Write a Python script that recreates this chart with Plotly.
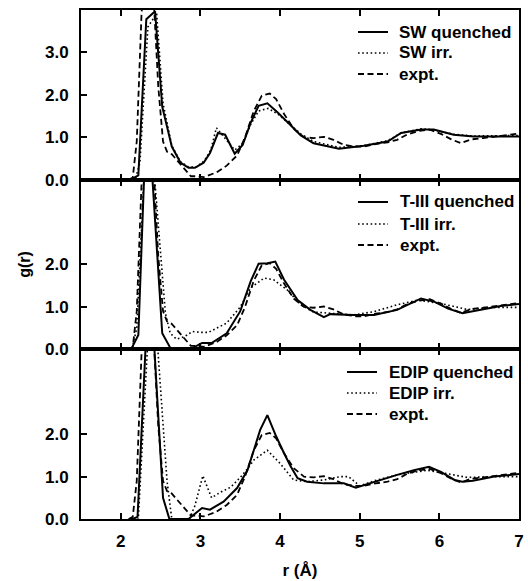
import plotly.graph_objects as go
from plotly.subplots import make_subplots

# ---------------- data ----------------
# experimental g(r) (same in all three panels)
r_expt = [2.10, 2.15, 2.20, 2.26, 2.30, 2.35, 2.40, 2.42, 2.47, 2.53, 2.58, 2.64, 2.70, 2.81, 2.88,
          2.95, 3.04, 3.10, 3.20, 3.33, 3.46, 3.56, 3.67, 3.77, 3.87, 3.95, 4.05, 4.17, 4.30, 4.42,
          4.55, 4.67, 4.80, 4.95, 5.05, 5.20, 5.35, 5.47, 5.60, 5.75, 5.88, 6.02, 6.15, 6.27, 6.40,
          6.55, 6.73, 6.87, 7.00]
g_expt = [0.00, 0.05, 0.90, 3.90, 5.00, 5.60, 5.00, 4.00, 2.20, 0.90, 0.66, 0.60, 0.47, 0.24, 0.08,
          0.08, 0.06, 0.10, 0.17, 0.33, 0.57, 1.00, 1.62, 1.98, 2.03, 1.90, 1.55, 1.20, 1.00, 0.98,
          1.01, 0.94, 0.82, 0.78, 0.78, 0.84, 0.88, 0.94, 1.07, 1.15, 1.18, 1.08, 0.95, 0.86, 0.95,
          0.98, 1.02, 1.05, 1.09]

# SW
r_sw_q = [2.10, 2.14, 2.22, 2.32, 2.43, 2.52, 2.64, 2.75, 2.85, 2.93, 3.04, 3.12, 3.22, 3.31, 3.43,
          3.53, 3.63, 3.73, 3.84, 3.96, 4.13, 4.26, 4.42, 4.74, 5.05, 5.35, 5.52, 5.77, 5.93, 6.18,
          6.43, 6.73, 7.00]
g_sw_q = [0.00, 0.02, 0.10, 3.78, 3.97, 1.72, 0.78, 0.40, 0.28, 0.28, 0.40, 0.63, 1.10, 1.06, 0.61,
          0.82, 1.34, 1.74, 1.80, 1.60, 1.29, 1.04, 0.86, 0.73, 0.80, 0.90, 1.10, 1.18, 1.18, 1.06,
          1.02, 1.02, 1.02]
r_sw_i = [2.10, 2.18, 2.24, 2.34, 2.45, 2.53, 2.64, 2.75, 2.85, 2.95, 3.05, 3.13, 3.20, 3.30, 3.43,
          3.53, 3.63, 3.73, 3.85, 3.97, 4.13, 4.26, 4.42, 4.74, 5.05, 5.35, 5.52, 5.77, 5.93, 6.18,
          6.43, 6.73, 7.00]
g_sw_i = [0.00, 0.00, 0.40, 3.60, 3.92, 1.80, 0.80, 0.42, 0.30, 0.30, 0.45, 0.70, 1.22, 1.00, 0.70,
          0.85, 1.30, 1.62, 1.68, 1.55, 1.30, 1.08, 0.90, 0.76, 0.80, 0.92, 1.10, 1.20, 1.17, 1.07,
          1.03, 1.03, 1.04]

# T-III
r_t3_q = [2.10, 2.14, 2.22, 2.33, 2.52, 2.62, 2.87, 3.02, 3.14, 3.33, 3.50, 3.63, 3.73, 3.84, 3.94,
          4.05, 4.22, 4.38, 4.55, 4.63, 4.92, 5.18, 5.47, 5.77, 5.94, 6.11, 6.29, 6.52, 6.77, 7.00]
g_t3_q = [0.00, 0.04, 0.34, 6.00, 0.38, 0.04, 0.00, 0.15, 0.15, 0.38, 0.90, 1.60, 2.02, 2.03, 2.07,
          1.64, 1.16, 0.93, 0.76, 0.83, 0.81, 0.81, 0.93, 1.20, 1.12, 0.96, 0.85, 0.94, 1.02, 1.07]
r_t3_i = [2.10, 2.14, 2.20, 2.34, 2.56, 2.62, 2.70, 2.80, 2.90, 3.00, 3.10, 3.20, 3.33, 3.50, 3.63,
          3.80, 3.92, 4.09, 4.26, 4.42, 4.67, 4.92, 5.18, 5.47, 5.73, 6.02, 6.35, 6.69, 7.00]
g_t3_i = [0.00, 0.00, 0.50, 6.00, 0.85, 0.38, 0.24, 0.30, 0.42, 0.40, 0.40, 0.50, 0.62, 1.00, 1.45,
          1.68, 1.64, 1.40, 1.05, 0.88, 0.85, 0.81, 0.89, 1.05, 1.16, 1.08, 0.94, 0.99, 0.99]

# EDIP
r_ed_q = [2.10, 2.15, 2.21, 2.36, 2.53, 2.61, 2.85, 3.02, 3.12, 3.29, 3.46, 3.59, 3.67, 3.75, 3.84,
          3.95, 4.05, 4.13, 4.22, 4.34, 4.55, 4.80, 4.95, 5.18, 5.47, 5.68, 5.87, 6.02, 6.19, 6.29,
          6.42, 6.69, 7.00]
g_ed_q = [0.00, 0.00, 0.05, 6.00, 0.50, 0.00, 0.00, 0.26, 0.22, 0.41, 0.73, 1.15, 1.62, 2.10, 2.45,
          1.95, 1.55, 1.25, 0.96, 0.88, 0.84, 0.84, 0.74, 0.88, 1.04, 1.15, 1.23, 1.11, 0.92, 0.88,
          0.90, 1.00, 1.06]
r_ed_i = [2.10, 2.22, 2.39, 2.58, 2.64, 2.86, 2.93, 3.00, 3.03, 3.08, 3.14, 3.25, 3.38, 3.50, 3.59,
          3.67, 3.84, 4.00, 4.17, 4.34, 4.55, 4.76, 4.86, 5.00, 5.18, 5.47, 5.85, 6.06, 6.35, 6.69,
          7.00]
g_ed_i = [0.00, 0.00, 6.00, 0.90, 0.00, 0.00, 0.31, 0.78, 1.02, 0.78, 0.50, 0.63, 0.75, 0.98, 1.18,
          1.39, 1.62, 1.31, 0.92, 0.88, 0.92, 1.00, 1.00, 0.78, 0.90, 1.04, 1.15, 1.08, 0.98, 1.00,
          1.00]

panel_names = [["SW quenched", "SW irr.", "expt."],
               ["T-III quenched", "T-III irr.", "expt."],
               ["EDIP quenched", "EDIP irr.", "expt."]]
panel_data = [[(r_sw_q, g_sw_q), (r_sw_i, g_sw_i), (r_expt, g_expt)],
              [(r_t3_q, g_t3_q), (r_t3_i, g_t3_i), (r_expt, g_expt)],
              [(r_ed_q, g_ed_q), (r_ed_i, g_ed_i), (r_expt, g_expt)]]
y_tickvals = [[0, 1, 2, 3], [0, 1, 2], [0, 1, 2]]
x_tickvals = [2, 3, 4, 5, 6, 7]

# ---------------- figure ----------------
W, H = 528, 581
L, R, T, B = 81, 9, 10, 62
FONT = "Liberation Sans, Arial, Helvetica, sans-serif"

fig = make_subplots(rows=3, cols=1, shared_xaxes=True, vertical_spacing=0)

styles = [dict(color="black", width=2, dash="solid"),
          dict(color="black", width=1.6, dash="1.6px,2.6px"),
          dict(color="black", width=1.8, dash="6px,3.5px")]

for i in range(3):
    for j in range(3):
        rr, gg = panel_data[i][j]
        fig.add_trace(go.Scatter(x=rr, y=gg, mode="lines", name=panel_names[i][j],
                                 line=styles[j], showlegend=False, cliponaxis=True),
                      row=i + 1, col=1)

plot_h = H - T - B
plot_w = W - L - R


def px_x(p):
    return (p - L) / plot_w


def px_y(p):
    return (H - B - p) / plot_h


# manual legends (line sample + label) in each panel
legend_rows = [[32, 53, 74], [202, 224, 245], [372, 393, 414]]
legend_line_x = [(358, 388), (358, 388), (347, 377)]
legend_text_x = [397, 398, 387]
for i in range(3):
    for j in range(3):
        yy = px_y(legend_rows[i][j])
        x0, x1 = legend_line_x[i]
        fig.add_shape(type="line", xref="paper", yref="paper",
                      x0=px_x(x0), x1=px_x(x1), y0=yy, y1=yy,
                      line=dict(color="black", width=styles[j]["width"], dash=styles[j]["dash"]))
        fig.add_annotation(xref="paper", yref="paper", x=px_x(legend_text_x[i]), y=yy,
                           xanchor="left", yanchor="middle", showarrow=False,
                           text=panel_names[i][j],
                           font=dict(family=FONT, size=17, color="black", weight="bold"))

for i in range(3):
    fig.update_yaxes(range=[0, 4], tickvals=y_tickvals[i],
                     ticktext=["%.1f" % v for v in y_tickvals[i]],
                     ticks="inside", ticklen=6, tickwidth=2, tickcolor="black",
                     showline=True, linewidth=2, linecolor="black", mirror=True,
                     showgrid=False, zeroline=False, ticklabelstandoff=7, automargin=False,
                     tickfont=dict(family=FONT, size=17, color="black", weight="bold"),
                     row=i + 1, col=1)
    fig.update_xaxes(range=[1.5, 7], tickvals=x_tickvals,
                     ticks="inside", ticklen=6, tickwidth=2, tickcolor="black",
                     showline=True, linewidth=2, linecolor="black", mirror="ticks",
                     showgrid=False, zeroline=False, ticklabelstandoff=6, automargin=False,
                     tickfont=dict(family=FONT, size=17, color="black", weight="bold"),
                     row=i + 1, col=1)

fig.update_xaxes(title=dict(text="r (Å)", standoff=14,
                            font=dict(family=FONT, size=17, color="black", weight="bold")),
                 row=3, col=1)
fig.update_yaxes(title=dict(text="g(r)", standoff=10,
                            font=dict(family=FONT, size=16, color="black", weight="bold")),
                 row=2, col=1)

fig.update_layout(width=W, height=H, margin=dict(l=L, r=R, t=T, b=B, autoexpand=False),
                  paper_bgcolor="white", plot_bgcolor="white",
                  showlegend=False, font=dict(family=FONT, color="black"))

fig.write_html("out.html")
